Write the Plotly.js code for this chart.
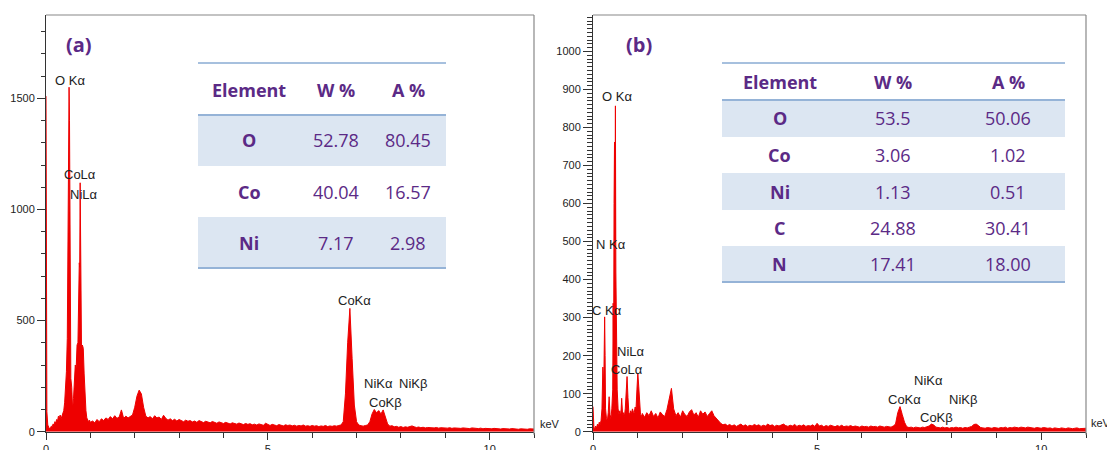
<!DOCTYPE html>
<html>
<head>
<meta charset="utf-8">
<script src="https://cdn.plot.ly/plotly-3.0.1.min.js"></script>
<style>html,body{margin:0;padding:0;background:#fff;}#chart{width:1107px;height:450px;}</style>
</head>
<body>
<div id="chart"></div>
<script>
// ---------------- DATA ----------------
// Panel (a) spectrum: energy (keV) and counts
const energyA = [0,0.01,0.02,0.04,0.06,0.08,0.10,0.12,0.14,0.16,0.18,0.20,0.22,0.24,0.26,0.28,0.30,0.32,0.34,0.36,0.38,0.40,0.42,0.44,0.46,0.48,0.50,0.51,0.52,0.53,0.54,0.55,0.56,0.58,0.60,0.62,0.64,0.66,0.68,0.70,0.72,0.74,0.75,0.76,0.77,0.78,0.79,0.80,0.82,0.84,0.86,0.88,0.90,0.92,0.94,0.96,0.98,
1.00,1.05,1.10,1.15,1.20,1.25,1.30,1.35,1.40,1.45,1.50,1.55,1.60,1.65,1.70,1.75,1.80,1.85,1.90,1.95,
2.00,2.05,2.10,2.15,2.20,2.25,2.30,2.35,2.40,2.45,2.50,2.55,2.60,2.65,2.70,2.75,2.80,2.85,2.90,2.95,
3.00,3.05,3.10,3.15,3.20,3.25,3.30,3.35,3.40,3.45,3.50,3.55,3.60,3.65,3.70,3.75,3.80,3.85,3.90,3.95,
4.00,4.05,4.10,4.15,4.20,4.25,4.30,4.35,4.40,4.45,4.50,4.55,4.60,4.65,4.70,4.75,4.80,4.85,4.90,4.95,
5.00,5.05,5.10,5.15,5.20,5.25,5.30,5.35,5.40,5.45,5.50,5.55,5.60,5.65,5.70,5.75,5.80,5.85,5.90,5.95,
6.00,6.05,6.10,6.15,6.20,6.25,6.30,6.35,6.40,6.45,6.50,6.55,6.60,6.65,6.70,6.75,6.80,6.85,6.90,6.95,
7.00,7.05,7.10,7.15,7.20,7.25,7.30,7.35,7.40,7.45,7.50,7.55,7.60,7.65,7.70,7.75,7.80,7.85,7.90,7.95,
8.00,8.05,8.10,8.15,8.20,8.25,8.30,8.35,8.40,8.45,8.50,8.55,8.60,8.65,8.70,8.75,8.80,8.85,8.90,8.95,
9.00,9.05,9.10,9.15,9.20,9.25,9.30,9.35,9.40,9.45,9.50,9.55,9.60,9.65,9.70,9.75,9.80,9.85,9.90,9.95,
10.00,10.05,10.10,10.15,10.20,10.25,10.30,10.35,10.40,10.45,10.50,10.55,10.60,10.65,10.70,10.75,10.80,10.85,10.90,10.95,11.00];
const countsA = [1510,300,90,30,15,12,18,25,22,35,30,45,40,55,48,70,62,75,58,68,85,95,130,205,270,420,870,1440,1550,1400,860,400,240,200,100,150,270,300,285,390,400,600,760,740,1120,760,410,380,390,375,260,160,95,62,55,45,52,
42,48,40,55,45,58,50,62,55,68,58,72,60,66,98,60,70,62,68,75,
110,160,187,170,110,70,62,68,58,72,62,66,55,74,60,52,58,50,56,48,
55,50,45,52,47,50,44,48,42,50,45,41,47,43,40,46,42,38,44,40,
37,42,38,35,40,36,34,39,35,32,37,33,36,31,34,30,35,32,29,38,
31,28,33,30,27,32,29,26,31,28,30,26,29,25,28,26,30,25,27,24,
28,25,27,23,26,24,28,23,26,24,27,25,28,30,45,170,400,555,330,120,
45,30,27,25,28,30,45,80,100,85,95,80,98,60,35,25,27,22,24,20,
23,19,22,20,24,26,22,19,21,18,20,17,19,18,20,17,19,16,18,17,
19,16,18,15,17,16,18,15,17,15,16,14,17,15,16,14,16,13,15,14,
16,13,15,13,14,12,14,13,15,12,14,12,13,11,13,12,14,11,13,12,12];

// Panel (b) spectrum
const energyB = [0,0.01,0.02,0.04,0.06,0.08,0.10,0.12,0.14,0.16,0.18,0.20,0.22,0.24,0.26,0.27,0.28,0.30,0.32,0.34,0.36,0.38,0.40,0.42,0.44,0.45,0.46,0.47,0.48,0.49,0.50,0.51,0.52,0.54,0.56,0.58,0.60,0.62,0.64,0.66,0.68,0.70,0.72,0.74,0.76,0.78,0.80,0.82,0.84,0.86,0.88,0.90,0.92,0.94,0.96,0.98,1.00,1.02,1.04,1.06,1.08,1.10,
1.15,1.20,1.25,1.30,1.35,1.40,1.45,1.50,1.55,1.60,1.65,1.70,1.75,1.80,1.85,1.90,1.95,
2.00,2.05,2.10,2.15,2.20,2.25,2.30,2.35,2.40,2.45,2.50,2.55,2.60,2.65,2.70,2.75,2.80,2.85,2.90,2.95,
3.00,3.05,3.10,3.15,3.20,3.25,3.30,3.35,3.40,3.45,3.50,3.55,3.60,3.65,3.70,3.75,3.80,3.85,3.90,3.95,
4.00,4.05,4.10,4.15,4.20,4.25,4.30,4.35,4.40,4.45,4.50,4.55,4.60,4.65,4.70,4.75,4.80,4.85,4.90,4.95,
5.00,5.05,5.10,5.15,5.20,5.25,5.30,5.35,5.40,5.45,5.50,5.55,5.60,5.65,5.70,5.75,5.80,5.85,5.90,5.95,
6.00,6.05,6.10,6.15,6.20,6.25,6.30,6.35,6.40,6.45,6.50,6.55,6.60,6.65,6.70,6.75,6.80,6.85,6.90,6.95,
7.00,7.05,7.10,7.15,7.20,7.25,7.30,7.35,7.40,7.45,7.50,7.55,7.60,7.65,7.70,7.75,7.80,7.85,7.90,7.95,
8.00,8.05,8.10,8.15,8.20,8.25,8.30,8.35,8.40,8.45,8.50,8.55,8.60,8.65,8.70,8.75,8.80,8.85,8.90,8.95,
9.00,9.05,9.10,9.15,9.20,9.25,9.30,9.35,9.40,9.45,9.50,9.55,9.60,9.65,9.70,9.75,9.80,9.85,9.90,9.95,
10.00,10.05,10.10,10.15,10.20,10.25,10.30,10.35,10.40,10.45,10.50,10.55,10.60,10.65,10.70,10.75,10.80,10.85,10.90,10.95,11.00];
const countsB = [66,30,12,8,15,10,20,14,25,18,30,60,170,120,302,200,60,35,28,50,92,45,35,60,110,338,200,600,762,500,857,420,260,110,60,45,55,40,88,45,50,40,60,120,145,90,50,45,55,48,60,52,50,65,60,110,154,120,60,45,40,48,
38,50,42,55,40,48,36,52,45,40,58,85,114,60,42,50,38,
55,45,40,52,58,44,50,38,55,46,52,40,48,55,42,35,28,22,18,20,
16,19,15,18,14,17,20,15,18,14,17,15,19,16,18,14,17,15,20,16,
18,14,17,15,18,20,16,14,17,15,19,14,17,15,18,14,16,15,18,14,
22,15,17,13,16,14,17,15,13,16,14,17,13,15,14,16,13,15,14,12,
15,13,14,12,15,13,14,12,15,13,12,14,13,12,15,20,50,66,45,25,
13,11,12,10,12,11,10,12,11,13,15,20,18,12,11,10,12,10,11,9,
11,10,12,10,11,9,11,10,12,14,19,20,16,11,10,9,11,10,9,11,
10,9,11,10,12,9,11,10,12,11,10,12,11,10,12,11,10,9,11,10,
9,11,10,9,10,8,10,9,8,10,9,8,10,9,8,9,10,8,9,8,9];

// Peak labels
const peakLabelsA = ['O Kα','CoLα','NiLα','CoKα','NiKα','NiKβ','CoKβ'];
const peakLabelsB = ['O Kα','N Kα','C Kα','NiLα','CoLα','NiKα','CoKα','NiKβ','CoKβ'];

// Composition tables
const tableHeader = ['Element','W %','A %'];
const elementsA = ['O','Co','Ni'];
const weightA = ['52.78','40.04','7.17'];
const atomicA = ['80.45','16.57','2.98'];
const elementsB = ['O','Co','Ni','C','N'];
const weightB = ['53.5','3.06','1.13','24.88','17.41'];
const atomicB = ['50.06','1.02','0.51','30.41','18.00'];

const panelTags = ['(a)','(b)'];

// ---------------- LAYOUT HELPERS ----------------
const W = 1107, H = 450;
const px = x => x / W;
const py = y => 1 - y / H;

const purple = '#5b2a86';
const red = '#ee0000';
const tickFont = {family:'Liberation Sans, Arial, sans-serif', size:11, color:'#222'};
const labelFont = {family:'Liberation Sans, Arial, sans-serif', size:13, color:'#222'};

const plotA = {x0:46, x1:534};
const plotB = {x0:593, x1:1086};
const plotTop = 15, plotBottom = 431.7;

const shapes = [];
const annotations = [];

// frame lines (top and right, gray)
[plotA, plotB].forEach(p => {
  shapes.push({type:'line', xref:'paper', yref:'paper', x0:px(p.x0), x1:px(p.x1), y0:py(plotTop), y1:py(plotTop), line:{color:'#888', width:1.2}});
  shapes.push({type:'line', xref:'paper', yref:'paper', x0:px(p.x1), x1:px(p.x1), y0:py(plotTop), y1:py(plotBottom+3), line:{color:'#888', width:1.2}});
});

// peak label positions (pixel centres)
const peakPosA = [[70,81],[80,175],[84,194],[354,300],[378,383],[413,383],[386,402]];
const peakPosB = [[617,97],[611,244],[607,310],[631,351],[627,369],[928,380],[904,399],[963,399],[936,417]];
peakLabelsA.forEach((t,i) => annotations.push({text:t, xref:'paper', yref:'paper', x:px(peakPosA[i][0]), y:py(peakPosA[i][1]), showarrow:false, xanchor:'center', yanchor:'middle', font:labelFont}));
peakLabelsB.forEach((t,i) => annotations.push({text:t, xref:'paper', yref:'paper', x:px(peakPosB[i][0]), y:py(peakPosB[i][1]), showarrow:false, xanchor:'center', yanchor:'middle', font:labelFont}));

// keV labels
annotations.push({text:'keV', xref:'paper', yref:'paper', x:px(538), y:py(424), showarrow:false, xanchor:'left', yanchor:'middle', font:tickFont});
annotations.push({text:'keV', xref:'paper', yref:'paper', x:px(1089), y:py(423), showarrow:false, xanchor:'left', yanchor:'middle', font:tickFont});

// panel tags
const tagPos = [[79,45],[639,45]];
panelTags.forEach((t,i) => annotations.push({text:'<b>'+t+'</b>', xref:'paper', yref:'paper', x:px(tagPos[i][0]), y:py(tagPos[i][1]), showarrow:false, xanchor:'center', yanchor:'middle', font:{family:'Open Sans, sans-serif', size:20, color:purple}}));

// tables
function buildTable(cfg, elements, w, a) {
  const shade = '#dce6f2';
  const n = elements.length;
  for (let i = 0; i < n; i++) {
    if (i % 2 === 0) {
      shapes.push({type:'rect', xref:'paper', yref:'paper', x0:px(cfg.x0), x1:px(cfg.x1), y0:py(cfg.rows[i]), y1:py(cfg.rows[i+1]), fillcolor:shade, line:{width:0}, layer:'below'});
    }
  }
  shapes.push({type:'line', xref:'paper', yref:'paper', x0:px(cfg.x0), x1:px(cfg.x1), y0:py(cfg.top), y1:py(cfg.top), line:{color:'#4f81bd', width:1}});
  shapes.push({type:'line', xref:'paper', yref:'paper', x0:px(cfg.x0), x1:px(cfg.x1), y0:py(cfg.rows[0]), y1:py(cfg.rows[0]), line:{color:'#95b3d7', width:2}});
  shapes.push({type:'line', xref:'paper', yref:'paper', x0:px(cfg.x0), x1:px(cfg.x1), y0:py(cfg.rows[n]), y1:py(cfg.rows[n]), line:{color:'#95b3d7', width:2}});
  const f = {family:'Open Sans, sans-serif', size:18, color:purple};
  tableHeader.forEach((t,j) => annotations.push({text:'<b>'+t+'</b>', xref:'paper', yref:'paper', x:px(cfg.cols[j]), y:py(cfg.headerY), showarrow:false, xanchor:'center', yanchor:'middle', font:f}));
  for (let i = 0; i < n; i++) {
    const yc = py((cfg.rows[i] + cfg.rows[i+1]) / 2);
    const cells = ['<b>'+elements[i]+'</b>', w[i], a[i]];
    cells.forEach((t,j) => annotations.push({text:t, xref:'paper', yref:'paper', x:px(cfg.cols[j]), y:yc, showarrow:false, xanchor:'center', yanchor:'middle', font:f}));
  }
}
buildTable({x0:198, x1:446, top:63, headerY:90, rows:[115,166,217,268], cols:[249,336,408]}, elementsA, weightA, atomicA);
buildTable({x0:722, x1:1065, top:63, headerY:82, rows:[100,137,173,210,246,282], cols:[780,893,1008]}, elementsB, weightB, atomicB);

// ---------------- TRACES ----------------
const traces = [
  {x:energyA, y:countsA, xaxis:'x', yaxis:'y', type:'scatter', mode:'lines', fill:'tozeroy', fillcolor:red, line:{color:red, width:1}, hoverinfo:'skip'},
  {x:energyB, y:countsB, xaxis:'x2', yaxis:'y2', type:'scatter', mode:'lines', fill:'tozeroy', fillcolor:red, line:{color:red, width:1}, hoverinfo:'skip'}
];

const baseX = {range:[0,11], tick0:0, dtick:5, ticks:'outside', ticklen:7, tickcolor:'#333', tickwidth:1,
  minor:{dtick:1, ticks:'outside', ticklen:5, tickcolor:'#333'}, showline:true, linecolor:'#333', linewidth:1,
  showgrid:false, zeroline:false, tickfont:tickFont, fixedrange:true};
const yDomain = [py(plotBottom), py(plotTop)];

const layout = {
  width:W, height:H, margin:{l:0, r:0, t:0, b:0}, showlegend:false,
  paper_bgcolor:'#fff', plot_bgcolor:'rgba(0,0,0,0)',
  xaxis: Object.assign({}, baseX, {domain:[px(plotA.x0), px(plotA.x1)], anchor:'y'}),
  xaxis2: Object.assign({}, baseX, {domain:[px(plotB.x0), px(plotB.x1)], anchor:'y2'}),
  yaxis: {domain:yDomain, anchor:'x', range:[0,1875], tick0:0, dtick:500, ticks:'outside', ticklen:8, tickcolor:'#333',
    minor:{dtick:100, ticks:'outside', ticklen:4, tickcolor:'#333'}, showline:true, linecolor:'#333', showgrid:false, zeroline:false, tickfont:tickFont, fixedrange:true},
  yaxis2: {domain:yDomain, anchor:'x2', range:[0,1096], tick0:0, dtick:100, ticks:'outside', ticklen:9, tickcolor:'#333',
    minor:{dtick:10, ticks:'outside', ticklen:5, tickcolor:'#333'}, showline:true, linecolor:'#333', showgrid:false, zeroline:false, tickfont:tickFont, fixedrange:true},
  shapes: shapes,
  annotations: annotations
};

Plotly.newPlot('chart', traces, layout, {displayModeBar:false, staticPlot:true});
</script>
</body>
</html>
